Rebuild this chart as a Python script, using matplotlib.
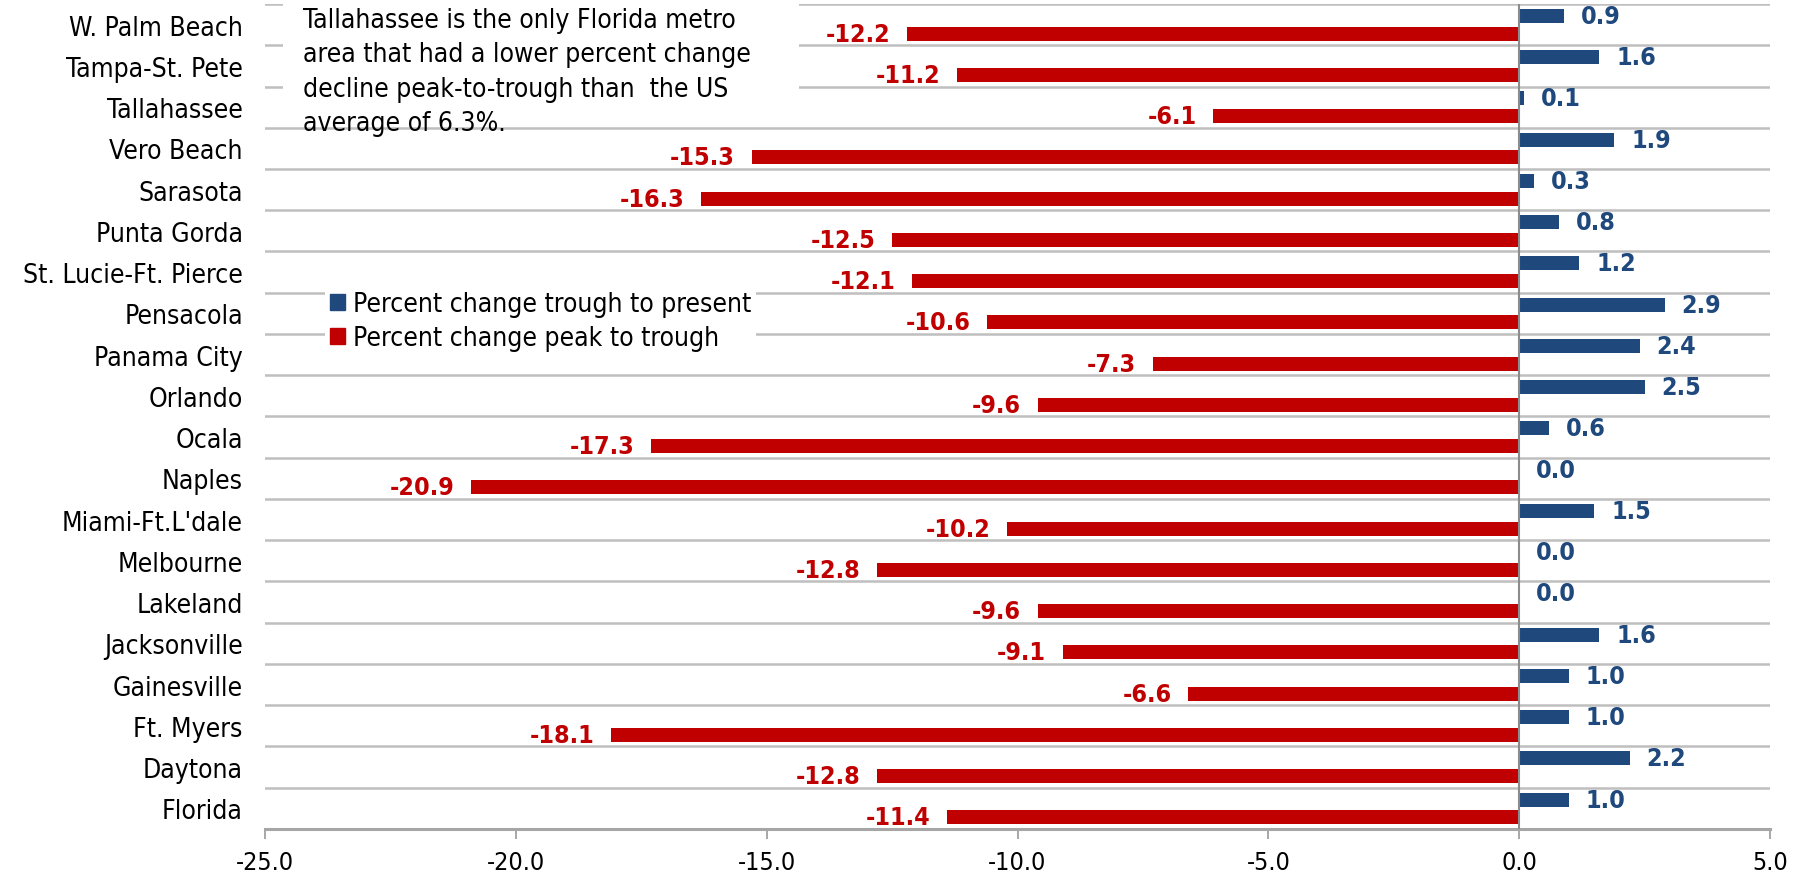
import matplotlib
matplotlib.use("Agg")
import matplotlib.pyplot as plt
import numpy as np
from matplotlib.patches import Patch, Rectangle

plt.rcParams['font.family'] = ['DejaVu Sans']
plt.rcParams['font.stretch'] = 'condensed'

metros = ["W. Palm Beach", "Tampa-St. Pete", "Tallahassee", "Vero Beach", "Sarasota",
          "Punta Gorda", "St. Lucie-Ft. Pierce", "Pensacola", "Panama City", "Orlando",
          "Ocala", "Naples", "Miami-Ft.L'dale", "Melbourne", "Lakeland",
          "Jacksonville", "Gainesville", "Ft. Myers", "Daytona", "Florida"]
trough_to_present = [0.9, 1.6, 0.1, 1.9, 0.3, 0.8, 1.2, 2.9, 2.4, 2.5,
                     0.6, 0.0, 1.5, 0.0, 0.0, 1.6, 1.0, 1.0, 2.2, 1.0]
peak_to_trough = [-12.2, -11.2, -6.1, -15.3, -16.3, -12.5, -12.1, -10.6, -7.3, -9.6,
                  -17.3, -20.9, -10.2, -12.8, -9.6, -9.1, -6.6, -18.1, -12.8, -11.4]
xticks = [-25.0, -20.0, -15.0, -10.0, -5.0, 0.0, 5.0]

blue = "#1F497D"
red = "#C00000"
grid_grey = "#BFBFBF"

fig = plt.figure(figsize=(18.07, 8.78), dpi=100)
ax = fig.add_axes([0.1467, 0.0547, 0.8328, 0.9396])

y = np.arange(len(metros))
h = 0.34
ax.barh(y - 0.21, trough_to_present, height=h, color=blue, zorder=2,
        label="Percent change trough to present")
ax.barh(y + 0.22, peak_to_trough, height=h, color=red, zorder=2,
        label="Percent change peak to trough")

# value labels
for yi, v in zip(y, trough_to_present):
    ax.annotate(f"{v:.1f}", (v, yi - 0.21), xytext=(12, 0), textcoords="offset points",
                ha="left", va="center", color=blue, fontsize=18, fontweight="bold")
for yi, v in zip(y, peak_to_trough):
    ax.annotate(f"{v:.1f}", (v, yi + 0.22), xytext=(-12, 0), textcoords="offset points",
                ha="right", va="center", color=red, fontsize=18, fontweight="bold")

ax.set_xlim(-25, 5)
ax.set_ylim(len(metros) - 0.5, -0.5)
ax.set_xticks(xticks)
ax.set_xticklabels([f"{t:.1f}" for t in xticks], fontsize=18)
ax.set_yticks(y)
ax.set_yticklabels(metros, fontsize=19)
ax.tick_params(axis="y", length=0, pad=16)
ax.tick_params(axis="x", length=7, width=1.2, color="#999999", pad=8)

# row separators
ax.set_yticks(np.arange(-0.5, len(metros) - 1, 1.0), minor=True)
ax.tick_params(axis="y", which="minor", length=0)
ax.grid(axis="y", which="minor", color=grid_grey, linewidth=1.8, zorder=0)
ax.set_axisbelow(True)
ax.axvline(0, color="#8C8C8C", linewidth=1.5, zorder=3)

for side in ["left", "top", "right"]:
    ax.spines[side].set_visible(False)
ax.spines["bottom"].set_color("#A6A6A6")
ax.spines["bottom"].set_linewidth(2.2)

# note box
W, H = 1807, 878
fig.patches.append(Rectangle((283 / W, 1 - 126 / H), (799 - 283) / W, 126 / H,
                             transform=fig.transFigure, facecolor="white",
                             edgecolor="none", zorder=1))
note = ("Tallahassee is the only Florida metro\n"
        "area that had a lower percent change\n"
        "decline peak-to-trough than  the US\n"
        "average of 6.3%.")
fig.text(303 / W, 1 - 8 / H, note, fontsize=19, va="top", ha="left",
         linespacing=1.42, zorder=3)

handles = [Patch(color=blue), Patch(color=red)]
leg = ax.legend(handles, ["Percent change trough to present", "Percent change peak to trough"],
                loc="upper left", bbox_to_anchor=(325 / W, 1 - 287 / H),
                bbox_transform=fig.transFigure, fontsize=19, frameon=True,
                facecolor="white", edgecolor="none", framealpha=1, fancybox=False,
                handlelength=0.55, handleheight=0.55, handletextpad=0.3,
                labelspacing=0.3, borderpad=0.2, borderaxespad=0)

fig.savefig("out.png", dpi=100)
